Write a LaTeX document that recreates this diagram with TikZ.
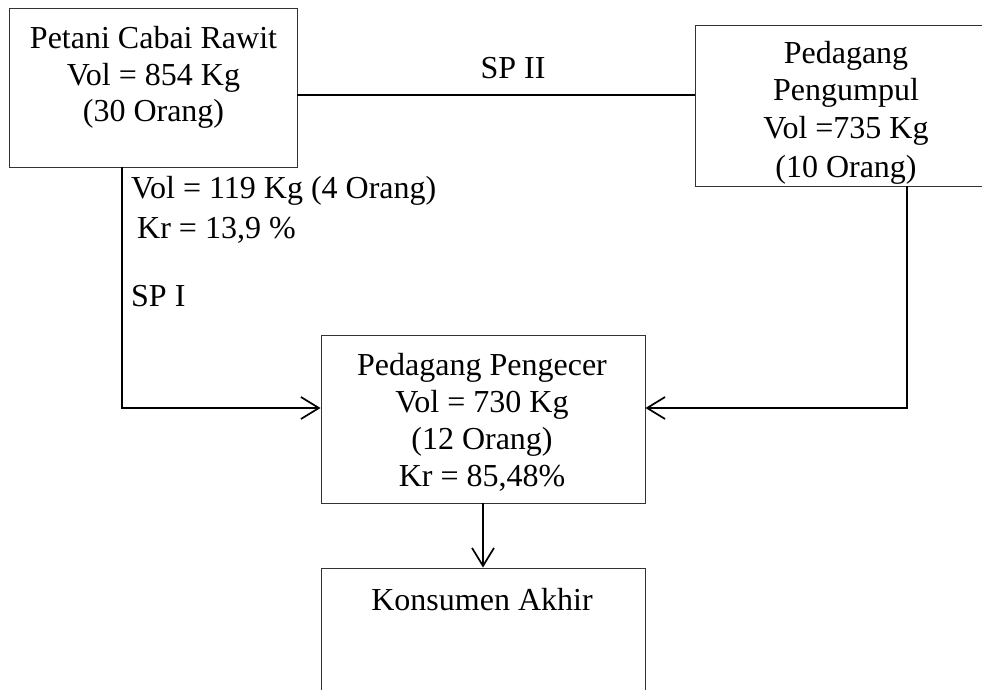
\documentclass[tikz,border=0pt]{standalone}
\usepackage{fontspec}
\setmainfont{Liberation Serif}
\usetikzlibrary{arrows.meta}
\begin{document}
\begin{tikzpicture}[x=1pt,y=-1pt,
  box/.style={draw=black!80,line width=0.9pt,rectangle,inner sep=0pt},
  txt/.style={anchor=base,inner sep=0pt,font=\fontsize{32}{36.5}\selectfont},
  ltxt/.style={anchor=base west,inner sep=0pt,font=\fontsize{32}{36.5}\selectfont},
  conn/.style={line width=1.7pt,black},
  arr/.style={conn,-{Straight Barb[length=18pt,width=22pt,line width=1.7pt]}}]
\useasboundingbox (0,0) rectangle (982,690);
\clip (0,0) rectangle (982,690);
% boxes
\node[box,minimum width=288pt,minimum height=159pt] (b1) at (153,87.5) {};
\node[box,minimum width=304pt,minimum height=161pt] (b2) at (847,105.5) {};
\node[box,minimum width=324pt,minimum height=168pt] (b3) at (483,419) {};
\node[box,minimum width=324pt,minimum height=160pt] (b4) at (483,648) {};
% box 1 text
\node[txt] (t1a) at (153.5,49) {Petani Cabai Rawit};
\node[txt] (t1b) at (153.5,85.5) {Vol = 854 Kg};
\node[txt] (t1c) at (153.5,122) {(30 Orang)};
% box 2 text (clipped at the box bottom)
\begin{scope}
\clip (695,25) rectangle (982,185.5);
\node[txt] (t2a) at (846,64) {Pedagang};
\node[txt] (t2b) at (846,101) {Pengumpul};
\node[txt] (t2c) at (846,139) {Vol =735 Kg};
\node[txt] (t2d) at (846,177) {(10 Orang)};
\end{scope}
% box 3 text
\node[txt] (t3a) at (482,375) {Pedagang Pengecer};
\node[txt] (t3b) at (482,412) {Vol = 730 Kg};
\node[txt] (t3c) at (482,449) {(12 Orang)};
\node[txt] (t3d) at (482,486) {Kr = 85,48\%};
% box 4 text
\node[txt] (t4a) at (482,610) {Konsumen Akhir};
% connector labels
\node[txt] (sp2) at (513,79) {SP II};
\node[ltxt] (l1) at (131,198) {Vol = 119 Kg (4 Orang)};
\node[ltxt] (l2) at (137,238) {Kr = 13,9 \%};
\node[ltxt] (sp1) at (131,306) {SP I};
% connectors
\draw[conn] ([yshift=-7.5pt]b1.east) -- ([yshift=-7.5pt]b1.east -| b2.west);
\draw[arr] ([xshift=-31pt]b1.south) |- ([yshift=11pt]b3.west);
\draw[arr] ([xshift=60pt]b2.south) |- ([yshift=11pt]b3.east);
\draw[arr] (b3.south) -- (b4.north);
\end{tikzpicture}
\end{document}
